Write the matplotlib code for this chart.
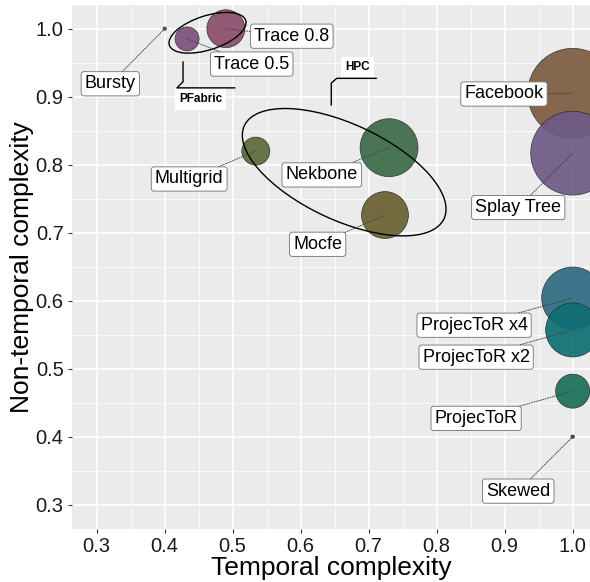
import matplotlib
matplotlib.use("Agg")
import matplotlib.pyplot as plt
from matplotlib.patches import Ellipse
import numpy as np

plt.rcParams['font.family'] = ['Liberation Sans', 'DejaVu Sans']

# workloads: temporal / non-temporal complexity, bubble volume
names = ["Bursty", "Trace 0.5", "Trace 0.8", "Multigrid", "Nekbone", "Mocfe",
         "Facebook", "Splay Tree", "ProjecToR x4", "ProjecToR x2", "ProjecToR", "Skewed"]
temporal = [0.40, 0.433, 0.49, 0.534, 0.73, 0.724, 1.0, 1.0, 1.0, 1.0, 1.0, 1.0]
non_temporal = [1.0, 0.985, 1.0, 0.82, 0.825, 0.726, 0.905, 0.817, 0.604, 0.557, 0.467, 0.40]
volume = [0.03, 1.44, 3.6, 1.96, 8.4, 5.5, 20.2, 17.6, 9.6, 7.3, 2.9, 0.03]
colors = ["#8B4050", "#7E4F80", "#8A4D6A", "#5B6A3A", "#3B6B48", "#6A5F30",
          "#7C5C40", "#6E5A85", "#2F6B82", "#0F6E73", "#1A6E5A", "#3A4060"]

# where each text label sits (ggrepel-like placement)
label_x = [0.320, 0.528, 0.587, 0.436, 0.631, 0.625, 0.899, 0.920, 0.855, 0.858, 0.858, 0.920]
label_y = [0.919, 0.948, 0.989, 0.779, 0.785, 0.683, 0.904, 0.737, 0.564, 0.517, 0.427, 0.320]

fig = plt.figure(figsize=(5.9, 5.82), dpi=100)
ax = fig.add_axes([72 / 590, 53 / 582, 518 / 590, 524.1 / 582])
ax.set_facecolor("#EBEBEB")
for s in ax.spines.values():
    s.set_visible(False)

ax.set_xlim(0.2637, 1.0255)
ax.set_ylim(0.2643, 1.035)
ticks = np.round(np.arange(0.3, 1.01, 0.1), 1)
ax.set_xticks(ticks)
ax.set_yticks(ticks)
ax.set_xticks(ticks[:-1] + 0.05, minor=True)
ax.set_yticks(ticks[:-1] + 0.05, minor=True)
ax.set_xticklabels([f"{t:.1f}" for t in ticks])
ax.set_yticklabels([f"{t:.1f}" for t in ticks])
ax.tick_params(which="major", length=3, width=0.8, color="#333333",
               labelsize=14.5, labelcolor="#1a1a1a", pad=3)
ax.tick_params(which="minor", length=0)
ax.grid(which="major", color="white", lw=1.1)
ax.grid(which="minor", color="white", lw=0.55)
ax.set_axisbelow(True)

ax.set_xlabel("Temporal complexity", fontsize=19, labelpad=0)
ax.set_ylabel("Non-temporal complexity", fontsize=19, labelpad=1)

ax.scatter(temporal, non_temporal, s=np.array(volume) * 207, c=colors,
           alpha=0.92, edgecolors="#2a2a2a", linewidths=0.5, zorder=3)

for n, x, y, lx, ly in zip(names, temporal, non_temporal, label_x, label_y):
    ax.annotate(n, xy=(x, y), xytext=(lx, ly), textcoords="data",
                ha="center", va="center", fontsize=13, zorder=6,
                bbox=dict(boxstyle="round,pad=0.2,rounding_size=0.15",
                          fc="white", ec="#6e6e6e", lw=0.6),
                arrowprops=dict(arrowstyle="-", ls=(0, (1, 1.5)), color="#444444",
                                lw=0.7, shrinkA=0, shrinkB=0))

# group outlines
ax.add_patch(Ellipse((0.463, 0.994), 0.118, 0.05, angle=18, fill=False,
                     ec="black", lw=1.0, zorder=5))
ax.add_patch(Ellipse((0.664, 0.789), 0.324, 0.141, angle=-25, fill=False,
                     ec="black", lw=1.0, zorder=5))

# group labels with elbow connectors
ax.plot([0.427, 0.427, 0.418, 0.503], [0.951, 0.922, 0.913, 0.913],
        color="black", lw=1.0, zorder=5)
ax.text(0.421, 0.896, "PFabric", fontsize=8.5, fontweight="bold", ha="left",
        va="center", zorder=6,
        bbox=dict(boxstyle="square,pad=0.35", fc="white", ec="none"))
ax.plot([0.645, 0.645, 0.653, 0.711], [0.888, 0.920, 0.927, 0.927],
        color="black", lw=1.0, zorder=5)
ax.text(0.684, 0.944, "HPC", fontsize=8.5, fontweight="bold", ha="center",
        va="center", zorder=6,
        bbox=dict(boxstyle="square,pad=0.35", fc="white", ec="none"))

fig.savefig("out.png", dpi=100)
